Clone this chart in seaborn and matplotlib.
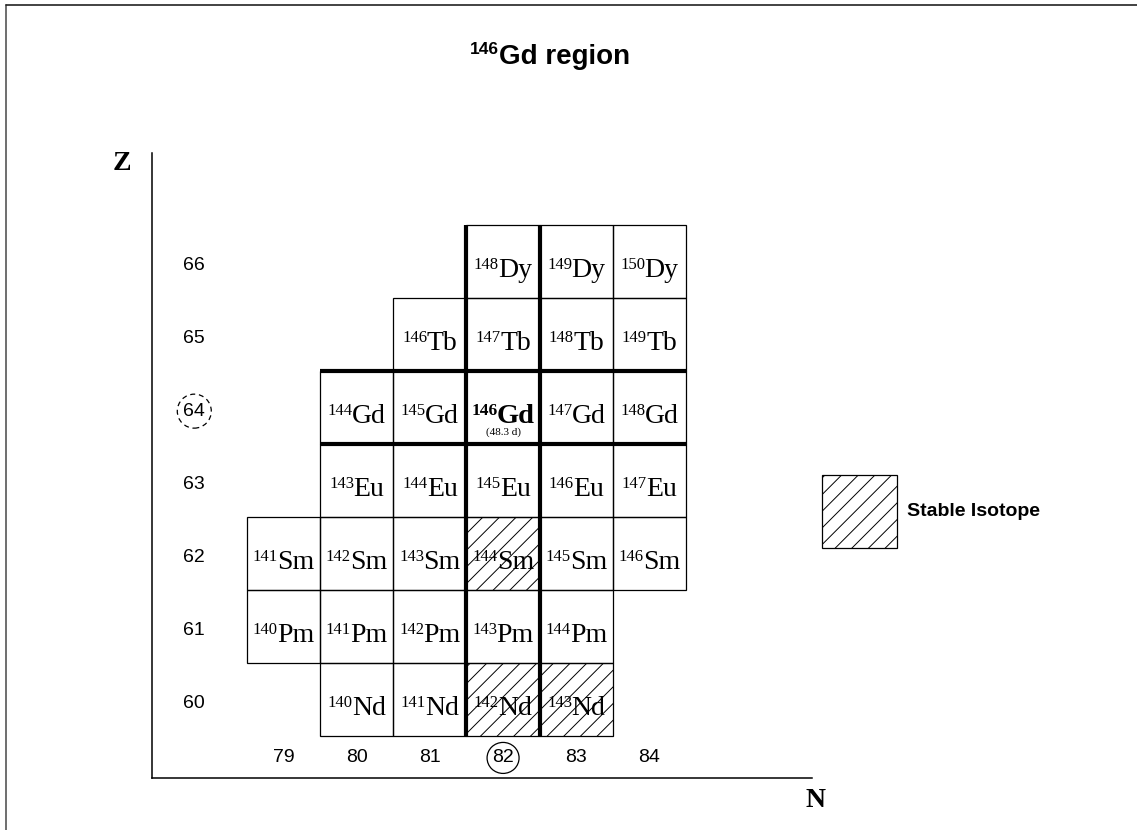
import matplotlib
matplotlib.use('Agg')
import matplotlib.pyplot as plt
import seaborn as sns
from matplotlib.patches import Rectangle, Ellipse
from matplotlib.lines import Line2D

# ---------------- data ----------------
z_rows = [66, 65, 64, 63, 62, 61, 60]
row_symbols = ['Dy', 'Tb', 'Gd', 'Eu', 'Sm', 'Pm', 'Nd']
row_n_first = [82, 81, 80, 80, 79, 79, 80]
row_n_last = [84, 84, 84, 84, 84, 83, 83]
stable_z = [62, 60, 60]
stable_n = [82, 82, 83]
highlight_z = 64
highlight_n = 82
highlight_half_life = '(48.3 d)'
n_ticks = [79, 80, 81, 82, 83, 84]
z_ticks = [60, 61, 62, 63, 64, 65, 66]
title_mass = '146'
title_rest = 'Gd region'
legend_text = 'Stable Isotope'

# ---------------- style ----------------
sns.set_theme(style='white')
plt.rcParams['font.family'] = ['Liberation Sans', 'DejaVu Sans']
plt.rcParams['text.color'] = 'black'
plt.rcParams['hatch.linewidth'] = 0.7
plt.rcParams['hatch.color'] = '#222222'

W, H = 1137, 830
fig = plt.figure(figsize=(W / 100, H / 100), dpi=100)
fig.patch.set_facecolor('white')
ax = fig.add_axes([152 / W, 1 - 778 / H, (812 - 152) / W, (778 - 153) / H])
ax.set_xlim(77.202, 86.222)
ax.set_ylim(58.925, 67.486)
ax.set_facecolor('white')
sns.despine(ax=ax)
for s in ['left', 'bottom']:
    ax.spines[s].set_color('black')
    ax.spines[s].set_linewidth(1.1)
ax.set_xticks([])
ax.set_yticks([])

serif = ['Liberation Serif', 'DejaVu Serif']
stable = set(zip(stable_z, stable_n))

renderer = fig.canvas.get_renderer()
px_per_x = (812 - 152) / (86.222 - 77.202)
px_per_y = (778 - 153) / (67.486 - 58.925)


def iso_label(xc, y_base, mass, sym, size, sup_size, bold=False, sup_raise=8, gap=-0.5,
              family=serif, target=ax, to_units=(px_per_x, px_per_y)):
    w = 'bold' if bold else 'normal'
    t_sup = target.text(0, 0, mass, ha='left', va='baseline', fontsize=sup_size,
                        fontweight=w, family=family, zorder=4)
    t_main = target.text(0, 0, sym, ha='left', va='baseline', fontsize=size,
                         fontweight=w, family=family, zorder=4)
    ws = t_sup.get_window_extent(renderer).width
    wm = t_main.get_window_extent(renderer).width
    total = ws + gap + wm
    left = xc - total / 2 / to_units[0]
    t_sup.set_position((left, y_base + sup_raise / to_units[1]))
    t_main.set_position((left + (ws + gap) / to_units[0], y_base))


for z, sym, n0, n1 in zip(z_rows, row_symbols, row_n_first, row_n_last):
    for n in range(n0, n1 + 1):
        a = z + n
        hatched = (z, n) in stable
        ax.add_patch(Rectangle((n - 0.5, z - 0.5), 1, 1, facecolor='none',
                               edgecolor='black', lw=0.9,
                               hatch='//' if hatched else None, zorder=2))
        if z == highlight_z and n == highlight_n:
            iso_label(n, z - 0.21, str(a), sym, 20.5, 12.5, bold=True, sup_raise=8)
            ax.text(n, z - 0.34, highlight_half_life, ha='center', va='center',
                    fontsize=8, family=serif, zorder=4)
        else:
            iso_label(n, z - 0.21, str(a), sym, 20, 12, sup_raise=7.5)

# magic number boundaries (thick lines)
for xv in [highlight_n - 0.5, highlight_n + 0.5]:
    ax.plot([xv, xv], [min(z_rows) - 0.5, max(z_rows) + 0.5], color='black',
            lw=3, solid_capstyle='butt', zorder=3)
for yv in [highlight_z - 0.5, highlight_z + 0.5]:
    ax.plot([79.5, 84.5], [yv, yv], color='black', lw=3,
            solid_capstyle='butt', zorder=3)

# tick labels
for n in n_ticks:
    ax.text(n, 59.2, str(n), ha='center', va='center', fontsize=14)
for z in z_ticks:
    ax.text(77.78, z - 0.05, str(z), ha='center', va='center', fontsize=14)

# circles for magic numbers
ax.add_patch(Ellipse((highlight_n, 59.2), 32 / px_per_x, 31 / px_per_y, fill=False,
                     edgecolor='black', lw=0.9, clip_on=False))
ax.add_patch(Ellipse((77.78, highlight_z - 0.05), 34 / px_per_x, 34 / px_per_y,
                     fill=False, edgecolor='black', lw=0.9, linestyle=(0, (4, 3)),
                     clip_on=False))

# legend
ax.add_patch(Rectangle((86.36, 62.08), 1.02, 1.0, facecolor='none', edgecolor='black',
                       lw=0.9, hatch='//', clip_on=False))
ax.text(87.52, 62.58, legend_text, ha='left', va='center', fontsize=14,
        fontweight='bold', clip_on=False)

# axis labels
fig.text(122 / W, 1 - 163 / H, 'Z', ha='center', va='center', fontsize=20,
         fontweight='bold', family=serif)
fig.text(815 / W, 1 - 800 / H, 'N', ha='center', va='center', fontsize=20,
         fontweight='bold', family=serif)

# title (superscript mass + text), in figure units
iso_label(550 / W, 1 - 64 / H, title_mass, title_rest, 20, 12.5, bold=True,
          sup_raise=10, gap=1, family=['Liberation Sans', 'DejaVu Sans'],
          target=fig, to_units=(W, H))

# figure frame
fig.add_artist(Line2D([6 / W, 6 / W], [0, 1 - 5 / H], transform=fig.transFigure,
                      color='#555555', lw=1.2))
fig.add_artist(Line2D([6 / W, 1], [1 - 5 / H, 1 - 5 / H], transform=fig.transFigure,
                      color='#222222', lw=1.2))

fig.savefig('out.png', dpi=100, facecolor='white')
